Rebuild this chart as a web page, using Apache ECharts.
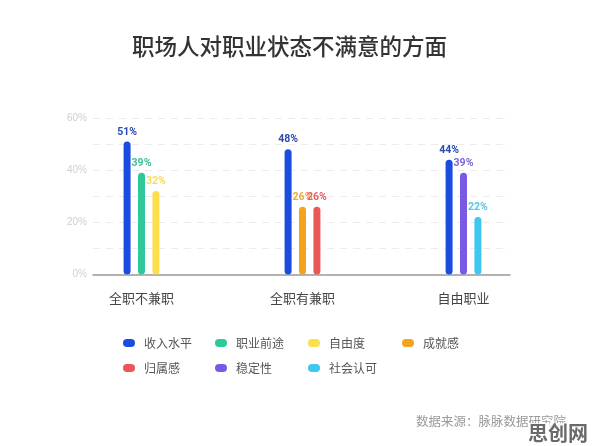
<!DOCTYPE html>
<html>
<head>
<meta charset="utf-8">
<script src="https://cdn.jsdelivr.net/npm/echarts@6/dist/echarts.min.js"></script>
<style>html,body{margin:0;padding:0;background:#fff;}#c{width:596px;height:446px;}</style>
</head>
<body>
<div id="c"></div>
<script>
// ---- data ----
const categories = ['全职不兼职', '全职有兼职', '自由职业'];
const legendNames = ['收入水平', '职业前途', '自由度', '成就感', '归属感', '稳定性', '社会认可'];
const groupItems = [
  ['收入水平', '职业前途', '自由度'],
  ['收入水平', '成就感', '归属感'],
  ['收入水平', '稳定性', '社会认可']
];
const groupValues = [
  [51, 39, 32],
  [48, 26, 26],
  [44, 39, 22]
];
const yTicks = [0, 10, 20, 30, 40, 50, 60];
const titleText = '职场人对职业状态不满意的方面';
const sourceText = '数据来源：脉脉数据研究院';

// ---- styles ----
const barColors = {
  '收入水平': '#1a4ce0', '职业前途': '#2ec99b', '自由度': '#fbe04c', '成就感': '#f4a31f',
  '归属感': '#ec5656', '稳定性': '#7a5ae4', '社会认可': '#3fc7f0'
};
const labelColors = {
  '收入水平': '#2a4bb0', '职业前途': '#3cc197', '自由度': '#f4dc5e', '成就感': '#f0aa3a',
  '归属感': '#e66060', '稳定性': '#7d66d2', '社会认可': '#5cc6e6'
};

const chart = echarts.init(document.getElementById('c'));
const gTop = 118, gBottom = 171.5;

const slotSeries = [0, 1, 2].map(slot => ({
  type: 'bar',
  xAxisIndex: 0, yAxisIndex: 0,
  barWidth: 7,
  barGap: '106%',
  data: categories.map((c, ci) => {
    const nm = groupItems[ci][slot];
    return {
      value: groupValues[ci][slot],
      name: nm,
      itemStyle: { color: barColors[nm], borderRadius: 3.5 },
      label: { color: labelColors[nm] }
    };
  }),
  label: {
    show: true, position: 'top', distance: 4,
    formatter: p => p.value + '%',
    fontFamily: 'Roboto', fontSize: 10.5, fontWeight: 'bold'
  },
  z: 5
}));

const legendSeries = legendNames.map(n => ({
  type: 'line', name: n, xAxisIndex: 1, yAxisIndex: 1, data: [],
  itemStyle: { color: barColors[n] }, lineStyle: { color: barColors[n] }
}));

const pill = 'path://M4,0 H8 A4,4 0 0 1 8,8 H4 A4,4 0 0 1 4,0 Z';
const colLeft = [118, 210, 303, 397];
const columns = [[0, 4], [1, 5], [2, 6], [3]];
const legends = columns.map((idx, k) => ({
  orient: 'vertical',
  left: colLeft[k], top: 332,
  itemWidth: 12, itemHeight: 8, itemGap: 13,
  selectedMode: false,
  data: idx.map(i => ({ name: legendNames[i], icon: pill })),
  formatter: '{t|{name}}',
  textStyle: {
    rich: { t: { padding: [0, 0, 0, 4], fontSize: 12, color: '#555', fontFamily: 'Noto Sans CJK SC', lineHeight: 14 } }
  }
}));

chart.setOption({
  backgroundColor: '#fff',
  animation: false,
  title: {
    text: titleText, left: 127, top: 30,
    textStyle: { fontSize: 22.5, fontWeight: 500, color: '#333', fontFamily: 'Noto Sans CJK SC' }
  },
  legend: legends,
  grid: [
    { left: 61, right: 52, top: gTop, bottom: gBottom },
    { left: 93, right: 86, top: gTop, bottom: gBottom }
  ],
  xAxis: [
    {
      type: 'category', gridIndex: 0, data: categories,
      axisLine: { show: false }, axisTick: { show: false }, splitLine: { show: false },
      axisLabel: { margin: 17, fontSize: 13, color: '#444', fontFamily: 'Noto Sans CJK SC' }
    },
    {
      type: 'category', gridIndex: 1, data: categories, boundaryGap: true,
      axisLine: { show: true, lineStyle: { color: '#9a9a9a', width: 1.5 } },
      axisTick: { show: false }, axisLabel: { show: false }, splitLine: { show: false }
    }
  ],
  yAxis: [
    { type: 'value', gridIndex: 0, min: 0, max: 60, interval: 10, show: false },
    {
      type: 'value', gridIndex: 1, min: 0, max: 60, interval: 10,
      axisLine: { show: false }, axisTick: { show: false },
      axisLabel: {
        fontSize: 10, color: '#cfcfcf', margin: 6,
        formatter: v => (yTicks.includes(v) && v % 20 === 0) ? v + '%' : ''
      },
      splitLine: { show: true, lineStyle: { color: '#ececec', type: [7, 6], width: 1 } }
    }
  ],
  series: slotSeries.concat(legendSeries),
  graphic: [
    {
      type: 'text', left: 416, top: 415,
      style: { text: sourceText, fontSize: 12.5, fill: '#9a9a9a', fontFamily: 'Noto Sans CJK SC' }
    },
    {
      type: 'text', left: 528, top: 423, z: 10,
      style: {
        text: '思创网', fontSize: 20, fontWeight: 'bold', fill: '#6a6a6a',
        fontFamily: 'Noto Sans CJK SC', backgroundColor: 'rgba(255,255,255,0.75)'
      }
    }
  ]
});
</script>
</body>
</html>
